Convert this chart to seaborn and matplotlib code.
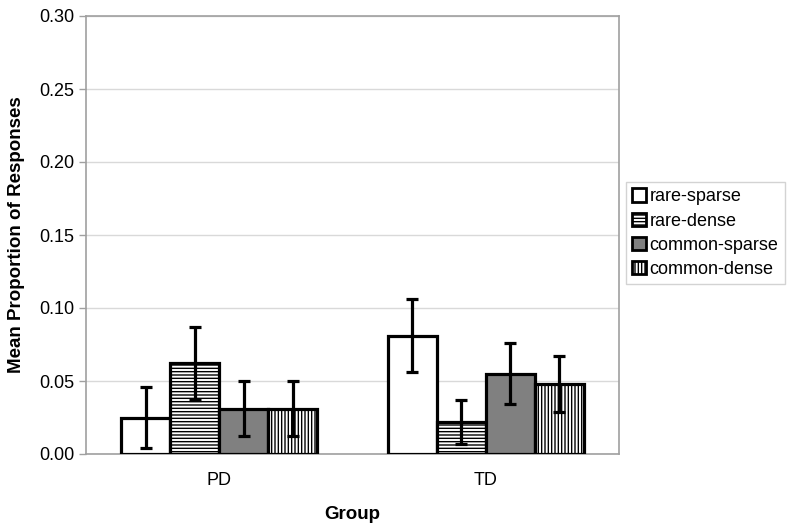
import matplotlib
matplotlib.use("Agg")
import matplotlib.pyplot as plt
from matplotlib.patches import Patch
import seaborn as sns
import pandas as pd
import numpy as np

groups = ["PD", "TD"]
conditions = ["rare-sparse", "rare-dense", "common-sparse", "common-dense"]
pd_means = [0.025, 0.062, 0.031, 0.031]
td_means = [0.081, 0.022, 0.055, 0.048]
pd_err = [0.021, 0.025, 0.019, 0.019]
td_err = [0.025, 0.015, 0.021, 0.019]
yticks = [0.00, 0.05, 0.10, 0.15, 0.20, 0.25, 0.30]

rows = []
for g, means, errs in [("PD", pd_means, pd_err), ("TD", td_means, td_err)]:
    for c, m, e in zip(conditions, means, errs):
        rows.append({"Group": g, "Condition": c, "Mean": m, "Err": e})
df = pd.DataFrame(rows)

sns.set_theme(style="white")
plt.rcParams['font.family'] = ['Liberation Sans', 'DejaVu Sans']
plt.rcParams['hatch.linewidth'] = 1.0
plt.rcParams['text.color'] = 'black'
plt.rcParams['axes.labelcolor'] = 'black'
plt.rcParams['xtick.color'] = 'black'
plt.rcParams['ytick.color'] = 'black'

fills = {"rare-sparse": "white", "rare-dense": "white",
         "common-sparse": "#808080", "common-dense": "white"}
hatches = {"rare-sparse": "", "rare-dense": "-----",
           "common-sparse": "", "common-dense": "|||||"}

fig = plt.figure(figsize=(8, 5.3), dpi=100)
ax = fig.add_axes([86/800, 1-454/530, (619-86)/800, (454-16)/530])

sns.barplot(data=df, x="Group", y="Mean", hue="Condition", order=groups,
            hue_order=conditions, palette=fills, errorbar=None,
            width=0.735, ax=ax, legend=False, saturation=1)

for cont, cond in zip(ax.containers, conditions):
    sub = df[df.Condition == cond].set_index("Group").loc[groups]
    xs = []
    for bar in cont:
        bar.set_edgecolor("black")
        bar.set_linewidth(2.3)
        bar.set_hatch(hatches[cond])
        bar.set_facecolor(fills[cond])
        bar.set_zorder(3)
        xs.append(bar.get_x() + bar.get_width()/2)
    ax.errorbar(xs, sub["Mean"].values, yerr=sub["Err"].values, fmt="none",
                ecolor="black", elinewidth=2.3, capsize=4.5, capthick=2.3, zorder=5)

ax.set_ylim(0, 0.30)
ax.set_xlim(-0.5, 1.5)
ax.set_yticks(yticks)
ax.set_yticklabels([f"{v:.2f}" for v in yticks], fontsize=13)
ax.tick_params(axis="x", labelsize=13, length=0, pad=13)
ax.set_xticks([-0.5, 0.5, 1.5], minor=True)
ax.tick_params(axis="x", which="minor", length=5, color="#a0a0a0", width=1, direction="out")
ax.tick_params(axis="y", length=5, color="#a0a0a0", labelcolor="black", width=1, direction="out", left=True)
ax.yaxis.grid(True, color="#d9d9d9", linewidth=1)
ax.set_axisbelow(True)
for s in ax.spines.values():
    s.set_color("#a0a0a0")
    s.set_linewidth(1.2)
ax.set_xlabel("Group", fontsize=13.5, fontweight="bold", labelpad=12)
ax.set_ylabel("Mean Proportion of Responses", fontsize=13.5, fontweight="bold", labelpad=10)

handles = [Patch(facecolor=fills[c], edgecolor="black", hatch=hatches[c], linewidth=2.0, label=c)
           for c in conditions]
leg = fig.legend(handles=handles, loc="upper left", bbox_to_anchor=(626/800, 1-182/530),
                 fontsize=13, frameon=True, fancybox=False, handlelength=0.75, handleheight=0.75,
                 handletextpad=0.2, borderpad=0.35, labelspacing=0.4, borderaxespad=0)
leg.get_frame().set_edgecolor("#c8c8c8")
leg.get_frame().set_linewidth(1.0)

fig.savefig("out.png", dpi=100)
